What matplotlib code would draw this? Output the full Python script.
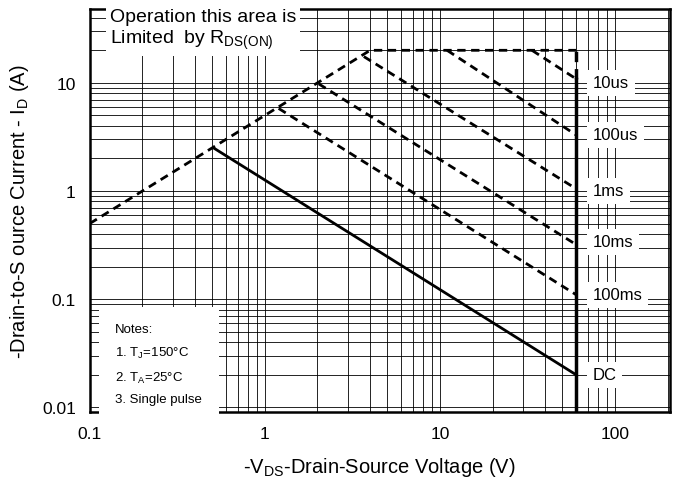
import matplotlib.pyplot as plt
import numpy as np

plt.rcParams['font.family'] = ['Liberation Sans', 'DejaVu Sans']

# data (V, A)
rds_v = [0.1, 4.0, 60]
rds_i = [0.5, 20, 20]
pulse_names = ["10us", "100us", "1ms", "10ms", "100ms"]
pulse_start_v = [33.6, 11.0, 3.68, 2.03, 1.2]
pulse_start_i = [20, 20, 17.5, 9.8, 5.8]
pulse_end_i = [10.9, 3.3, 1.05, 0.32, 0.11]
v_max = 60
dc_v = [0.51, 60]
dc_i = [2.5, 0.02]
label_i = [10, 3.3, 1.0, 0.34, 0.11, 0.02]

fig = plt.figure(figsize=(6.8, 4.85), dpi=100)
ax = fig.add_axes([0.132, 0.148, 0.853, 0.831])
ax.set_xscale("log")
ax.set_yscale("log")
ax.set_xlim(0.1, 206)
ax.set_ylim(0.009, 48)

ax.grid(True, which="both", color="black", lw=0.6)
ax.tick_params(which="both", length=0, labelsize=12.5, pad=10)
ax.set_xticks([0.1, 1, 10, 100])
ax.set_xticklabels(["0.1", "1", "10", "100"])
ax.set_yticks([0.01, 0.1, 1, 10])
ax.set_yticklabels(["0.01", "0.1", "1", "10"])
for s in ax.spines.values():
    s.set_linewidth(1.8)

dash = (0, (3, 2))
ax.plot(rds_v, rds_i, color="black", lw=2, ls=dash)
for sv, si, ei in zip(pulse_start_v, pulse_start_i, pulse_end_i):
    ax.plot([sv, v_max], [si, ei], color="black", lw=2, ls=dash)
ax.plot(dc_v, dc_i, color="black", lw=2)
ax.plot([v_max, v_max], [0.009, 10.9], color="black", lw=2.5)
ax.plot([v_max, v_max], [10.9, 20], color="black", lw=2.5, ls=dash)

box = dict(facecolor="white", edgecolor="none", pad=4)
for name, yi in zip(pulse_names + ["DC"], label_i):
    ax.text(75, yi, name, fontsize=12, va="center", ha="left", bbox=box)

ax.text(0.13, 31, "Operation this area is\nLimited  by R$_{\\mathregular{DS(ON)}}$",
        fontsize=14, va="center", ha="left", linespacing=1.2,
        bbox=dict(facecolor="white", edgecolor="none", pad=3))
ax.text(0.14, 0.025, "Notes:\n1. T$_{\\mathregular{J}}$=150\u00b0C\n2. T$_{\\mathregular{A}}$=25\u00b0C\n3. Single pulse",
        fontsize=9.5, va="center", ha="left", linespacing=1.9,
        bbox=dict(facecolor="white", edgecolor="none", pad=12))

ax.set_xlabel("-V$_{\\mathregular{DS}}$-Drain-Source Voltage (V)", fontsize=14.5, labelpad=10)
ax.set_ylabel("-Drain-to-S ource Current - I$_{\\mathregular{D}}$ (A)", fontsize=14.5, labelpad=8)

fig.savefig("out.png", dpi=100)
